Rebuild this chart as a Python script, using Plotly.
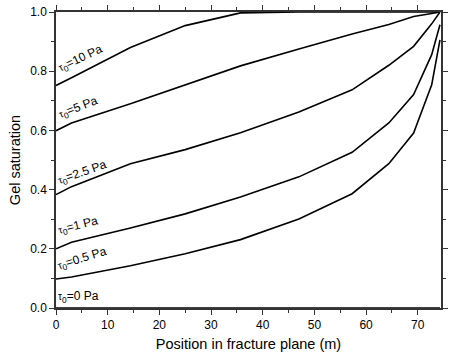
import plotly.graph_objects as go

x_nodes = [0, 3, 14.4, 25, 35.7, 47, 57.3, 64.4, 69.2, 72.7, 74.3]
s_10 = [0.752, 0.778, 0.880, 0.954, 0.997, 1.0, 1.0, 1.0, 1.0, 1.0, 1.0]
s_5 = [0.599, 0.625, 0.690, 0.754, 0.818, 0.875, 0.926, 0.958, 0.985, 0.995, 1.0]
s_2_5 = [0.383, 0.410, 0.487, 0.535, 0.592, 0.662, 0.737, 0.820, 0.884, 0.960, 1.0]
s_1 = [0.200, 0.222, 0.270, 0.318, 0.375, 0.443, 0.526, 0.625, 0.721, 0.856, 0.957]
s_0_5 = [0.098, 0.105, 0.143, 0.183, 0.231, 0.301, 0.386, 0.4875, 0.591, 0.754, 0.906]
s_0 = [0, 0, 0, 0, 0, 0, 0, 0, 0, 0, 0]

series = [s_10, s_5, s_2_5, s_1, s_0_5, s_0]
tau_values = ["10", "5", "2.5", "1", "0.5", "0"]
labels = ["<span style='font-size:10px'>τ</span><sub>0</sub>=%s Pa" % v for v in tau_values]
label_x = [4.7, 4.3, 5.1, 4.3, 5.1, 4.3]
label_y = [0.842, 0.677, 0.457, 0.277, 0.165, 0.036]
label_angle = [-25, -21, -19, -14, -17, 0]

fig = go.Figure()
for s, v in zip(series, tau_values):
    fig.add_trace(go.Scatter(x=x_nodes, y=s, mode="lines",
                             line=dict(color="black", width=1.6),
                             name="τ0=%s Pa" % v, showlegend=False, cliponaxis=False))

for lab, lx, ly, ang in zip(labels, label_x, label_y, label_angle):
    fig.add_annotation(x=lx, y=ly, xref="x", yref="y", text=lab, showarrow=False,
                       textangle=ang, font=dict(family="Liberation Sans, Arial", size=12, color="black"),
                       xanchor="center", yanchor="middle")

axis_common = dict(showgrid=False, zeroline=False, showline=True, linecolor="#333",
                   linewidth=1.5, ticks="outside", ticklen=5, tickwidth=1, tickcolor="#333",
                   mirror="allticks",
                   tickfont=dict(family="Liberation Sans, Arial", size=12, color="black"))

fig.update_xaxes(range=[0, 74.5], tickvals=[0, 10, 20, 30, 40, 50, 60, 70],
                 minor=dict(tickvals=[5, 15, 25, 35, 45, 55, 65], ticklen=3, ticks="outside",
                            tickcolor="#333"),
                 title=dict(text="Position in fracture plane (m)", standoff=8,
                            font=dict(family="Liberation Sans, Arial", size=14.5, color="black")),
                 **axis_common)
fig.update_yaxes(range=[0, 1.0], tickvals=[0, 0.2, 0.4, 0.6, 0.8, 1.0], tickformat=".1f",
                 minor=dict(tickvals=[0.1, 0.3, 0.5, 0.7, 0.9], ticklen=3, ticks="outside",
                            tickcolor="#333"),
                 title=dict(text="Gel saturation", standoff=6,
                            font=dict(family="Liberation Sans, Arial", size=14.5, color="black")),
                 **axis_common)

fig.update_layout(width=452, height=360, margin=dict(l=56, r=4, t=12, b=52),
                  plot_bgcolor="white", paper_bgcolor="white")

fig.write_html("out.html")
